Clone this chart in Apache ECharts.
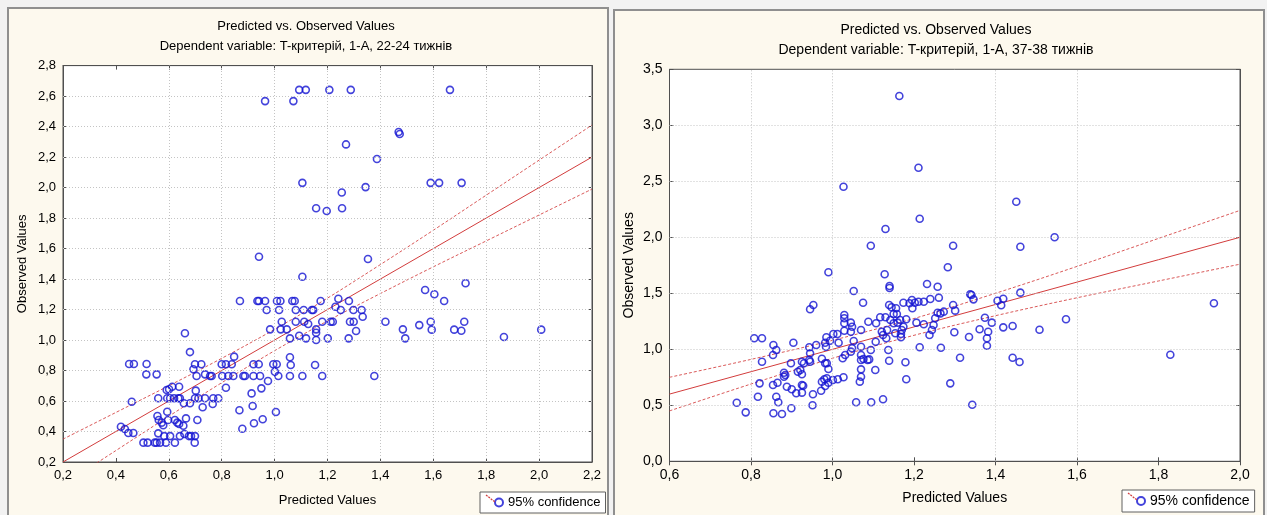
<!DOCTYPE html>
<html><head><meta charset="utf-8">
<script src="https://cdn.jsdelivr.net/npm/echarts@6/dist/echarts.min.js"></script>
<style>html,body{margin:0;padding:0;background:#f2f2f2;}#c{width:1267px;height:515px;}</style>
</head><body><div id="c"></div>
<script>
// ---------- DATA ----------
const leftPoints = [
[0.964,2.567],[1.071,2.567],[1.093,2.641],[1.118,2.641],[1.207,2.641],[1.288,2.641],[1.663,2.641],
[1.270,2.283],[1.469,2.364],[1.473,2.351],[1.387,2.187],
[1.105,2.031],[1.590,2.031],[1.622,2.031],[1.707,2.031],[1.344,2.003],
[1.254,1.968],[1.157,1.864],[1.197,1.846],[1.255,1.864],
[0.941,1.546],[1.353,1.531],
[1.105,1.415],
[0.869,1.256],[0.935,1.256],[0.941,1.256],[0.964,1.256],[1.009,1.256],[1.022,1.256],[1.067,1.256],[1.076,1.256],[1.174,1.256],[1.241,1.271],[1.281,1.256],
[0.970,1.197],[1.017,1.197],[1.080,1.197],[1.110,1.197],[1.141,1.197],[1.146,1.197],[1.230,1.218],[1.250,1.197],[1.298,1.197],[1.329,1.197],[1.333,1.153],
[1.027,1.120],[1.080,1.120],[1.112,1.120],[1.127,1.105],[1.180,1.120],[1.212,1.120],[1.220,1.120],[1.285,1.120],[1.299,1.120],
[0.983,1.070],[1.023,1.070],[1.046,1.070],[1.157,1.070],[1.157,1.048],[1.308,1.059],
[1.058,1.011],[1.093,1.028],[1.119,1.011],[1.157,1.000],[1.201,1.011],[1.280,1.011],
[0.847,0.891],[0.661,1.044],[0.680,0.921],
[0.450,0.843],[0.468,0.843],[0.516,0.843],[0.515,0.775],[0.554,0.775],
[0.693,0.808],[0.699,0.841],[0.723,0.841],[0.705,0.764],[0.737,0.775],[0.756,0.764],[0.762,0.764],
[0.800,0.841],[0.816,0.841],[0.838,0.841],[0.802,0.764],[0.825,0.764],[0.844,0.764],[0.882,0.764],[0.888,0.764],
[0.920,0.841],[0.940,0.841],[0.920,0.764],[0.945,0.764],[0.995,0.841],[1.008,0.841],[1.001,0.792],[1.014,0.764],
[1.058,0.887],[1.061,0.836],[1.058,0.764],[1.105,0.764],[1.153,0.836],[1.180,0.764],
[0.816,0.687],[0.913,0.650],[0.950,0.683],[0.975,0.731],[0.917,0.567],[0.867,0.539],[1.005,0.528],[0.878,0.418],[0.922,0.454],[0.955,0.480],
[0.592,0.672],[0.601,0.677],[0.613,0.694],[0.639,0.694],
[0.594,0.618],[0.560,0.618],[0.605,0.618],[0.620,0.618],[0.636,0.618],[0.642,0.618],[0.699,0.618],[0.712,0.618],[0.737,0.618],[0.768,0.618],[0.787,0.618],
[0.460,0.595],[0.657,0.585],[0.680,0.585],[0.702,0.668],[0.766,0.580],[0.728,0.559],
[0.594,0.530],[0.557,0.502],[0.562,0.475],[0.573,0.458],[0.579,0.441],[0.597,0.475],
[0.623,0.475],[0.632,0.458],[0.639,0.449],[0.665,0.486],[0.655,0.438],[0.708,0.475],
[0.419,0.431],[0.434,0.416],[0.447,0.390],[0.466,0.390],
[0.560,0.388],[0.583,0.370],[0.605,0.370],[0.642,0.370],[0.659,0.384],[0.676,0.370],[0.684,0.370],[0.699,0.370],
[0.504,0.327],[0.520,0.327],[0.547,0.327],[0.554,0.327],[0.567,0.327],[0.589,0.327],[0.623,0.327],[0.698,0.327],
[1.569,1.328],[1.604,1.300],[1.641,1.256],[1.722,1.372],
[1.419,1.120],[1.485,1.070],[1.547,1.098],[1.590,1.120],[1.594,1.068],[1.679,1.068],[1.706,1.061],[1.717,1.120],
[1.494,1.011],[1.867,1.020],[2.008,1.068],[1.377,0.764]
];
const rightPoints = [
[1.164,3.262],[1.211,2.621],[1.027,2.452],[1.214,2.166],[1.130,2.074],[1.094,1.925],[1.296,1.925],
[1.451,2.318],[1.461,1.916],[1.545,2.000],
[1.283,1.732],[1.338,1.491],[1.341,1.485],[1.346,1.446],[1.296,1.396],[1.301,1.345],[1.461,1.506],[1.405,1.434],[1.419,1.452],[1.414,1.393],
[1.374,1.282],[1.391,1.238],[1.299,1.152],[1.361,1.179],[1.382,1.157],[1.335,1.110],[1.379,1.098],[1.379,1.032],[1.419,1.196],[1.442,1.208],[1.508,1.175],[1.573,1.268],[1.936,1.411],
[1.313,0.925],[1.442,0.925],[1.459,0.887],[1.829,0.952],[1.289,0.696],[1.343,0.505],
[0.990,1.688],[1.128,1.670],[1.140,1.565],[1.140,1.547],[1.052,1.520],[1.232,1.583],[1.258,1.559],
[1.240,1.449],[1.261,1.461],[1.075,1.416],
[1.174,1.416],[1.189,1.411],[1.195,1.440],[1.202,1.416],[1.211,1.425],[1.224,1.425],[1.196,1.366],
[1.139,1.396],[1.145,1.375],[1.156,1.366],[0.945,1.357],[0.953,1.396],
[1.029,1.306],[1.029,1.277],[1.029,1.232],[1.029,1.166],[1.045,1.238],[1.048,1.202],[1.045,1.157],
[1.107,1.232],[1.088,1.246],[1.117,1.286],[1.130,1.286],[1.150,1.315],[1.158,1.315],[1.121,1.157],[1.134,1.172],
[1.142,1.262],[1.150,1.232],[1.160,1.238],[1.166,1.262],[1.181,1.268],
[1.154,1.143],[1.168,1.137],[1.170,1.172],[1.174,1.202],[1.168,1.107],
[1.206,1.238],[1.224,1.223],
[1.238,1.128],[1.244,1.172],[1.248,1.217],[1.252,1.277],[1.258,1.327],[1.265,1.321],[1.273,1.336],
[1.214,1.018],[1.266,1.014],[1.137,0.994],[1.139,0.898],[1.105,0.815],[1.179,0.884],[1.181,0.732],
[1.124,0.554],[1.095,0.527],[1.058,0.527],
[1.070,1.172],[1.070,1.023],[1.070,0.949],[1.070,0.905],[1.070,0.821],[1.070,0.755],[1.067,0.711],
[1.076,0.913],[1.086,0.904],[1.090,0.910],[1.094,0.994],[1.106,1.068],[1.124,1.128],[1.132,1.098],
[1.025,0.920],[1.031,0.949],[1.045,0.979],[1.048,1.009],[1.052,1.074],[1.027,0.750],
[0.985,1.107],[0.994,1.077],[1.002,1.137],[0.982,1.059],[0.984,1.023],[1.015,1.059],[1.012,1.137],
[0.974,0.916],[0.982,0.875],[0.986,0.875],[0.990,0.824],
[0.974,0.711],[0.980,0.732],[0.986,0.741],[0.990,0.702],[0.982,0.672],[0.972,0.630],[1.001,0.726],[1.013,0.732],
[0.960,1.038],[0.943,1.018],[0.945,0.964],[0.943,0.904],[0.945,0.889],[0.925,0.889],[0.930,0.875],[0.921,0.815],[0.915,0.800],[0.925,0.777],[0.925,0.681],[0.898,0.875],[0.904,1.059],
[0.881,0.791],[0.884,0.770],[0.881,0.755],[0.911,0.607],[0.925,0.613],[0.900,0.643],[0.888,0.666],[0.899,0.473],[0.952,0.598],[0.951,0.500],[0.928,0.675],
[0.855,1.038],[0.854,0.949],[0.862,0.994],[0.827,0.889],[0.808,1.098],[0.827,1.098],[0.854,0.681],[0.865,0.702],[0.821,0.696],[0.817,0.577],[0.862,0.577],[0.867,0.527],[0.855,0.429],[0.876,0.422],[0.765,0.523],[0.787,0.437]
];
// regression line and 95% confidence band
const leftLineX  = [0.2,0.4,0.6,0.8,1.0,1.2,1.4,1.6,1.8,2.0,2.2];
const leftFit    = [0.2,0.4,0.6,0.8,1.0,1.2,1.4,1.6,1.8,2.0,2.2];
const leftUpper  = [0.35,0.525,0.70,0.88,1.07,1.275,1.495,1.72,1.95,2.18,2.41];
const leftLower  = [0.05,0.275,0.50,0.72,0.93,1.125,1.305,1.48,1.65,1.82,1.99];
const rightLineX = [0.6,0.8,1.0,1.2,1.4,1.6,1.8,2.0];
const rightFit   = [0.6,0.8,1.0,1.2,1.4,1.6,1.8,2.0];
const rightUpper = [0.75,0.91,1.08,1.275,1.50,1.74,1.99,2.24];
const rightLower = [0.45,0.69,0.92,1.125,1.30,1.46,1.61,1.76];
// visible grid lines
const leftGridX  = [0.6,0.8,1.0,1.2,1.4,1.6,1.8,2.0];
const leftGridY  = [0.4,0.6,0.8,1.0,1.2,1.4,1.6,1.8,2.0,2.2,2.4,2.6];
const rightGridX = [0.8,1.0,1.4,1.6];
const rightGridY = [0.5,1.0,1.5,2.0,2.5,3.0];
const titles = ['Predicted vs. Observed Values',
  'Dependent variable: T-критерій, 1-A, 22-24 тижнів',
  'Dependent variable: T-критерій, 1-A, 37-38 тижнів'];
const legendName = '95% confidence';

// ---------- CHART ----------
const FONT = '"Liberation Sans", Arial, sans-serif';
const zip = (xs, ys) => xs.map((x, i) => [x, ys[i]]);
const fmt = v => v.toFixed(1).replace('.', ',');
const BLUE = '#1414d2', RED = '#d23c3c', AX = '#505050';

function axesFor(gi, xmin, xmax, xint, ymin, ymax, yint, fs, xGap, yGap) {
  const base = {gridIndex: gi, type: 'value', splitLine: {show: false},
    axisLine: {show: true, lineStyle: {color: AX, width: 1}},
    axisTick: {show: true, inside: true, length: 4, lineStyle: {color: AX}}};
  const xs = [
    Object.assign({}, base, {min: xmin, max: xmax, interval: xint, position: 'bottom',
      name: 'Predicted Values', nameLocation: 'middle', nameGap: xGap,
      nameTextStyle: {fontFamily: FONT, fontSize: fs, color: '#000'},
      axisLabel: {formatter: fmt, fontFamily: FONT, fontSize: fs, color: '#000', margin: 7}}),
    Object.assign({}, base, {min: xmin, max: xmax, interval: xint, position: 'top', axisLabel: {show: false}})
  ];
  const ys = [
    Object.assign({}, base, {min: ymin, max: ymax, interval: yint, position: 'left',
      name: 'Observed Values', nameLocation: 'middle', nameGap: yGap,
      nameTextStyle: {fontFamily: FONT, fontSize: fs, color: '#000'},
      axisLabel: {formatter: fmt, fontFamily: FONT, fontSize: fs, color: '#000', margin: 7}}),
    Object.assign({}, base, {min: ymin, max: ymax, interval: yint, position: 'right', axisLabel: {show: false}})
  ];
  return {xs, ys};
}
const A0 = axesFor(0, 0.2, 2.2, 0.2, 0.2, 2.8, 0.2, 13, 32, 34);
const A1 = axesFor(1, 0.6, 2.0, 0.2, 0, 3.5, 0.5, 14, 30, 33);

function gridSeries(xi, yi, gx, gy) {
  return {type: 'line', data: [], xAxisIndex: xi, yAxisIndex: yi, z: 1, silent: true,
    markLine: {silent: true, symbol: 'none', animation: false, label: {show: false},
      lineStyle: {type: [1, 2], color: '#c4c4c4', width: 1},
      data: gx.map(v => ({xAxis: v})).concat(gy.map(v => ({yAxis: v})))}};
}
function lineSeries(xi, yi, xs, ys, dashed) {
  return {type: 'line', data: zip(xs, ys), xAxisIndex: xi, yAxisIndex: yi, z: 3,
    showSymbol: false, smooth: dashed ? 0.35 : false, silent: true, clip: true,
    lineStyle: {color: RED, width: 1, type: dashed ? [3, 2] : 'solid', opacity: dashed ? 0.85 : 1}};
}
function scatterSeries(xi, yi, pts) {
  return {type: 'scatter', name: legendName, data: pts, xAxisIndex: xi, yAxisIndex: yi, z: 4,
    symbol: 'circle', symbolSize: 7,
    itemStyle: {color: 'rgba(0,0,0,0)', borderColor: BLUE, borderWidth: 1.6}};
}

const option = {
  animation: false,
  backgroundColor: '#f2f2f2',
  graphic: {elements: [
    {type: 'rect', z: -10, shape: {x: 8, y: 8, width: 600, height: 512}, style: {fill: '#fdf9ee', stroke: '#8f8f8f', lineWidth: 2}},
    {type: 'rect', z: -10, shape: {x: 614, y: 10, width: 650, height: 510}, style: {fill: '#fdf9ee', stroke: '#8f8f8f', lineWidth: 2}}
  ]},
  title: [
    {text: titles[0], subtext: titles[1], left: 306, top: 20, padding: 0, itemGap: 7, textAlign: 'center',
      textStyle: {fontFamily: FONT, fontSize: 13, fontWeight: 'normal', color: '#000'},
      subtextStyle: {fontFamily: FONT, fontSize: 13, color: '#000'}},
    {text: titles[0], subtext: titles[2], left: 936, top: 23, padding: 0, itemGap: 6, textAlign: 'center',
      textStyle: {fontFamily: FONT, fontSize: 14, fontWeight: 'normal', color: '#000'},
      subtextStyle: {fontFamily: FONT, fontSize: 14, color: '#000'}}
  ],
  legend: [
    {data: [legendName], left: 480, top: 492, padding: [4, 5, 4, 14], itemWidth: 8, itemHeight: 8, itemGap: 0,
      selectedMode: false, borderColor: '#606060', borderWidth: 1, backgroundColor: '#fff',
      textStyle: {fontFamily: FONT, fontSize: 13, color: '#000'}},
    {data: [legendName], left: 1122, top: 490, padding: [4, 5, 4, 14], itemWidth: 8, itemHeight: 8, itemGap: 0,
      selectedMode: false, borderColor: '#606060', borderWidth: 1, backgroundColor: '#fff',
      textStyle: {fontFamily: FONT, fontSize: 14, color: '#000'}}
  ],
  grid: [
    {left: 63, top: 65.6, width: 529, height: 396.4, show: true, backgroundColor: '#fff', borderColor: AX, borderWidth: 1},
    {left: 669.5, top: 69.3, width: 570.5, height: 392, show: true, backgroundColor: '#fff', borderColor: AX, borderWidth: 1}
  ],
  xAxis: [A0.xs[0], A0.xs[1], A1.xs[0], A1.xs[1]],
  yAxis: [A0.ys[0], A0.ys[1], A1.ys[0], A1.ys[1]],
  series: [
    gridSeries(0, 0, leftGridX, leftGridY),
    gridSeries(2, 2, rightGridX, rightGridY),
    lineSeries(0, 0, leftLineX, leftFit, false),
    lineSeries(0, 0, leftLineX, leftUpper, true),
    lineSeries(0, 0, leftLineX, leftLower, true),
    lineSeries(2, 2, rightLineX, rightFit, false),
    lineSeries(2, 2, rightLineX, rightUpper, true),
    lineSeries(2, 2, rightLineX, rightLower, true),
    scatterSeries(0, 0, leftPoints),
    scatterSeries(2, 2, rightPoints)
  ]
};
const chart = echarts.init(document.getElementById('c'), null, {renderer: 'canvas'});
chart.setOption(option);
// red legend stroke drawn on top of the legend boxes
chart.setOption({graphic: {elements: [
  {type: 'rect', z: -10, shape: {x: 8, y: 8, width: 600, height: 512}, style: {fill: '#fdf9ee', stroke: '#8f8f8f', lineWidth: 2}},
  {type: 'rect', z: -10, shape: {x: 614, y: 10, width: 650, height: 510}, style: {fill: '#fdf9ee', stroke: '#8f8f8f', lineWidth: 2}},
  {type: 'line', z: 100, zlevel: 1, shape: {x1: 486, y1: 495, x2: 495, y2: 502}, style: {stroke: RED, lineWidth: 1.2, lineDash: [2, 1]}},
  {type: 'line', z: 100, zlevel: 1, shape: {x1: 1128, y1: 493, x2: 1137, y2: 500}, style: {stroke: RED, lineWidth: 1.2, lineDash: [2, 1]}}
]}});
</script></body></html>
